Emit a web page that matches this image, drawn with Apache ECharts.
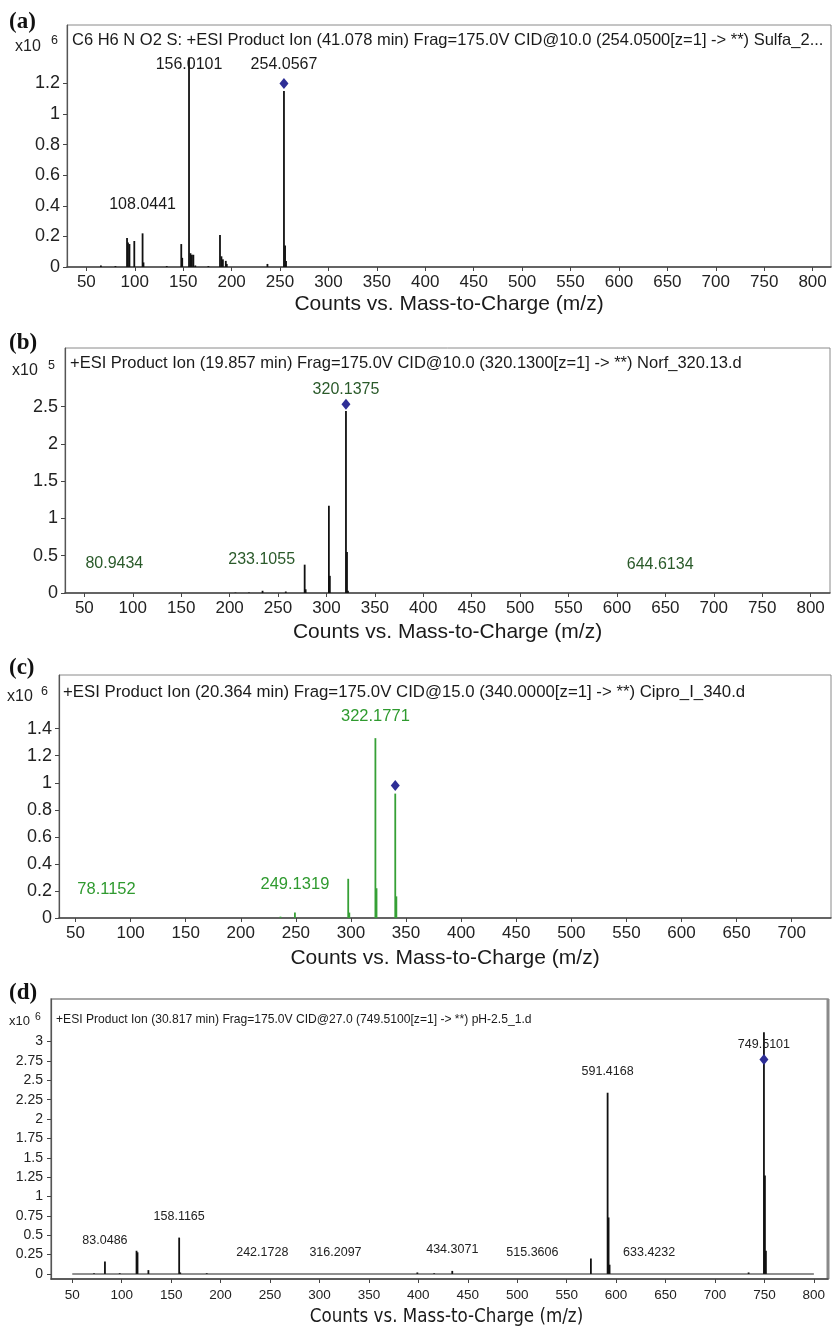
<!DOCTYPE html>
<html>
<head>
<meta charset="utf-8">
<title>Product ion spectra</title>
<script src="https://cdn.jsdelivr.net/npm/echarts@6/dist/echarts.min.js"></script>
<style>
  html, body { margin: 0; padding: 0; background: #fff; }
  #main { width: 832px; height: 1333px; }
</style>
</head>
<body>
<div id="main"></div>
<script type="text/javascript">
	// ---- data (m/z, counts in the panel's x10^n unit) ----
	var peaksA = [[65, 0.01], [80, 0.006], [92, 0.19], [93, 0.16], [94.5, 0.15], [99.5, 0.17], [108.0441, 0.22], [109, 0.03],
		[133, 0.006], [148, 0.15], [149, 0.06], [156.0101, 1.37], [157.5, 0.09], [159, 0.08], [160.5, 0.08], [162.5, 0.01],
		[176, 0.006], [188, 0.21], [189.5, 0.07], [191, 0.05], [194, 0.04], [195, 0.02], [237, 0.02],
		[254.0567, 1.15], [255.2, 0.14], [256.2, 0.04]];
	var precursorA = [[254.0567, 1.2]];
	var labelsA = [[108.0441, 0.41], [156.0101, 1.32], [254.0567, 1.32]];
	var yTicksA = [0, 0.2, 0.4, 0.6, 0.8, 1, 1.2];

	var peaksB = [[206, 0.006], [220, 0.006], [234, 0.03], [258, 0.02], [277.5, 0.38], [278.5, 0.05],
		[302.5, 1.17], [303.5, 0.23], [320.1375, 2.44], [321.2, 0.55], [322.2, 0.03]];
	var precursorB = [[320.1375, 2.53]];
	var labelsB = [[80.9434, 0.39], [233.1055, 0.45], [320.1375, 2.73], [644.6134, 0.385]];
	var yTicksB = [0, 0.5, 1, 1.5, 2, 2.5];

	var peaksC = [[236, 0.01], [249.1319, 0.04], [297.5, 0.29], [298.5, 0.04], [322.1771, 1.33], [323.2, 0.22],
		[340.2, 0.92], [341.2, 0.16]];
	var precursorC = [[340.2, 0.98]];
	var labelsC = [[78.1152, 0.21], [249.1319, 0.25], [322.1771, 1.49]];
	var yTicksC = [0, 0.2, 0.4, 0.6, 0.8, 1, 1.2, 1.4];

	var peaksD = [[72, 0.01], [83.0486, 0.16], [98, 0.01], [115, 0.3], [116, 0.28], [127, 0.05], [158.1165, 0.47],
		[159.2, 0.02], [186, 0.01], [399, 0.02], [416, 0.01], [434.3071, 0.04], [574.5, 0.2],
		[591.4168, 2.34], [592.4, 0.73], [593.4, 0.12], [734, 0.02], [749.5101, 3.12], [750.5, 1.27], [751.5, 0.3]];
	var baselineD = [[50, 0], [800, 0]];
	var precursorD = [[749.5101, 2.77]];
	var labelsD = [[83.0486, 0.43], [158.1165, 0.74], [242.1728, 0.28], [316.2097, 0.28], [434.3071, 0.31],
		[515.3606, 0.28], [591.4168, 2.61], [633.4232, 0.28], [749.5101, 2.96]];
	var yTicksD = [0, 0.25, 0.5, 0.75, 1, 1.25, 1.5, 1.75, 2, 2.25, 2.5, 2.75, 3];

	var xTicks800 = [50, 100, 150, 200, 250, 300, 350, 400, 450, 500, 550, 600, 650, 700, 750, 800];
	var xTicks700 = [50, 100, 150, 200, 250, 300, 350, 400, 450, 500, 550, 600, 650, 700];

	var headers = [
		'C6 H6 N O2 S: +ESI Product Ion (41.078 min) Frag=175.0V CID@10.0 (254.0500[z=1] -> **) Sulfa_2...',
		'+ESI Product Ion (19.857 min) Frag=175.0V CID@10.0 (320.1300[z=1] -> **) Norf_320.13.d',
		'+ESI Product Ion (20.364 min) Frag=175.0V CID@15.0 (340.0000[z=1] -> **) Cipro_I_340.d',
		'+ESI Product Ion (30.817 min) Frag=175.0V CID@27.0 (749.5100[z=1] -> **) pH-2.5_1.d'
	];
	var exponents = ['6', '5', '6', '6'];
	var xTitle = 'Counts vs. Mass-to-Charge (m/z)';

	var SANS = "'Liberation Sans', Arial, sans-serif";
	var NARROW = "'Liberation Sans Narrow', 'DejaVu Sans Condensed', 'Liberation Sans', sans-serif";

	// layout of each panel
	var panels = [
		{grid: {left: 67, top: 25, width: 764, height: 242}, x: [30, 819], y: [0, 1.582], xt: xTicks800, yt: yTicksA,
			peaks: peaksA, prec: precursorA, labels: labelsA, color: '#111', labelColor: '#1a1a1a', xfs: 17, yfs: 18, lfs: 16, tfs: 21, gap: 27, tfont: SANS, tpad: 0},
		{grid: {left: 65, top: 348, width: 765, height: 245}, x: [30, 820], y: [0, 3.285], xt: xTicks800, yt: yTicksB,
			peaks: peaksB, prec: precursorB, labels: labelsB, color: '#111', labelColor: '#2a5a2a', xfs: 17, yfs: 18, lfs: 16, tfs: 21, gap: 29, tfont: SANS, tpad: 0},
		{grid: {left: 59, top: 675, width: 772, height: 243}, x: [35, 735.7], y: [0, 1.797], xt: xTicks700, yt: yTicksC,
			peaks: peaksC, prec: precursorC, labels: labelsC, color: '#36a036', labelColor: '#2f9a2f', xfs: 17, yfs: 18, lfs: 16.5, tfs: 21, gap: 30, tfont: SANS, tpad: 0},
		{grid: {left: 51, top: 999, width: 777, height: 280}, x: [28.5, 814.3], y: [-0.0646, 3.55], xt: xTicks800, yt: yTicksD,
			peaks: peaksD, prec: precursorD, labels: labelsD, color: '#111', labelColor: '#222', xfs: 13.5, yfs: 14, lfs: 12.5, tfs: 18.6, gap: 29, tfont: NARROW, tpad: 14}
	];

	var grids = [], xAxes = [], yAxes = [], series = [];
	panels.forEach(function (p, i) {
		grids.push(Object.assign({show: true, borderColor: '#8a8a8a', borderWidth: i === 3 ? 1.5 : 1, containLabel: false}, p.grid));
		xAxes.push({
			type: 'value', gridIndex: i, min: p.x[0], max: p.x[1],
			name: xTitle, nameLocation: 'middle', nameGap: p.gap,
			nameTextStyle: {fontSize: p.tfs, fontFamily: p.tfont, color: '#1a1a1a', padding: [0, 0, 0, p.tpad]},
			axisLine: {show: true, onZero: false, lineStyle: {color: '#444', width: 1.5}},
			axisTick: {show: true, length: 4, customValues: p.xt, lineStyle: {color: '#444'}},
			axisLabel: {customValues: p.xt, fontSize: p.xfs, fontFamily: SANS, color: '#222', margin: i === 3 ? 9 : 7},
			splitLine: {show: false}
		});
		yAxes.push({
			type: 'value', gridIndex: i, min: p.y[0], max: p.y[1],
			axisLine: {show: true, onZero: false, lineStyle: {color: '#555', width: 1.2}},
			axisTick: {show: true, length: 4, customValues: p.yt, lineStyle: {color: '#444'}},
			axisLabel: {customValues: p.yt, fontSize: p.yfs, fontFamily: SANS, color: '#222', margin: i === 3 ? 8 : 7},
			splitLine: {show: false}
		});
		if (i === 3) {
			series.push({type: 'line', xAxisIndex: i, yAxisIndex: i, data: baselineD, symbol: 'none', silent: true,
				lineStyle: {color: '#222', width: 1.2}});
		}
		series.push({
			type: 'bar', xAxisIndex: i, yAxisIndex: i, data: p.peaks, barWidth: 1.8, silent: true,
			itemStyle: {color: p.color}
		});
		series.push({
			type: 'scatter', xAxisIndex: i, yAxisIndex: i, data: p.prec, symbol: 'diamond', symbolSize: [9, 11],
			itemStyle: {color: '#2e2e96', opacity: 1}, silent: true, z: 4
		});
		series.push({
			type: 'scatter', xAxisIndex: i, yAxisIndex: i, data: p.labels, symbolSize: 1, silent: true, z: 5,
			itemStyle: {color: 'rgba(0,0,0,0)', opacity: 1},
			label: {show: true, position: 'inside', color: p.labelColor, opacity: 1, fontSize: p.lfs, fontFamily: SANS,
				formatter: function (q) { return q.value[0].toFixed(4); }}
		});
	});

	// panel letters, multipliers and scan headers
	var letters = [['(a)', 22], ['(b)', 343], ['(c)', 668], ['(d)', 993]];
	var mult = [
		{x: 15, y: 47, sx: 51, sy: 41, f: 16, sf: 12.5},
		{x: 12, y: 371, sx: 48, sy: 366, f: 16, sf: 12.5},
		{x: 7, y: 697, sx: 41, sy: 692, f: 16, sf: 12.5},
		{x: 9, y: 1021, sx: 35, sy: 1017, f: 13, sf: 10.5}
	];
	var headPos = [{x: 72, y: 40, f: 16.5}, {x: 70, y: 363, f: 16.5}, {x: 63, y: 692, f: 16.8}, {x: 56, y: 1020, f: 12.1}];
	var graphic = [];
	letters.forEach(function (l) {
		graphic.push({type: 'text', style: {x: 9, y: l[1], text: l[0], font: "bold 23px 'Liberation Serif', 'Times New Roman', serif",
			fill: '#111', verticalAlign: 'middle'}});
	});
	mult.forEach(function (m, i) {
		graphic.push({type: 'text', style: {x: m.x, y: m.y, text: 'x10', font: m.f + 'px ' + SANS, fill: '#222', verticalAlign: 'middle'}});
		graphic.push({type: 'text', style: {x: m.sx, y: m.sy, text: exponents[i], font: m.sf + 'px ' + SANS, fill: '#222', verticalAlign: 'middle'}});
	});
	headPos.forEach(function (h, i) {
		graphic.push({type: 'text', style: {x: h.x, y: h.y, text: headers[i], font: h.f + 'px ' + SANS, fill: '#1a1a1a', verticalAlign: 'middle'}});
	});
	// heavier right frame of panel (d)
	graphic.push({type: 'line', shape: {x1: 828, y1: 999, x2: 828, y2: 1279}, style: {stroke: '#8a8a8a', lineWidth: 3}});

	var option = {
		backgroundColor: '#fff',
		animation: false,
		grid: grids,
		xAxis: xAxes,
		yAxis: yAxes,
		series: series,
		graphic: graphic
	};
	var myChart = echarts.init(document.getElementById('main'), null, {renderer: 'canvas'});
	myChart.setOption(option);
</script>
</body>
</html>
